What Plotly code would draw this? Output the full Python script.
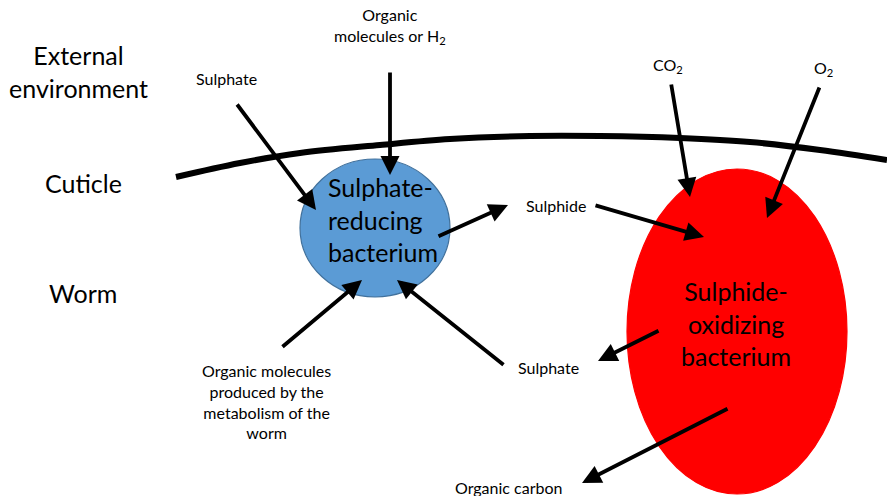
import plotly.graph_objects as go

W, H = 887, 496
FONT = "Lato"

# Region labels (left column)
region_labels = ["External<br>environment", "Cuticle", "Worm"]
region_x = [78, 83, 83]
region_y = [71, 183, 293]

# Cuticle curve points
cuticle_x = [176, 240, 300, 380, 450, 530, 600, 680, 750, 820, 887]
cuticle_y = [177, 163, 153, 145, 139, 136, 136, 138, 142, 150, 160]

# Bacteria (ellipses): x0, y0, x1, y1
bact_names = ["Sulphate-<br>reducing<br>bacterium", "Sulphide-<br>oxidizing<br>bacterium"]
bact_boxes = [(300, 159, 450, 297), (627, 169, 847, 494)]
bact_fill = ["#5B9BD5", "#FF0000"]
bact_line = ["#41719C", "#FF0000"]
bact_text_x = [326, 736]
bact_text_y = [219, 323]
bact_text_align = ["left", "center"]

# Small labels
small_labels = ["Sulphate", "Organic<br>molecules or H<sub>2</sub>", "CO<sub>2</sub>", "O<sub>2</sub>",
                "Sulphide", "Sulphate",
                "Organic molecules<br>produced by the<br>metabolism of the<br>worm", "Organic carbon"]
small_x = [226, 390, 668, 823, 556, 548, 266, 508]
small_y = [78, 26, 65, 68, 205, 367, 401, 487]

# Arrows: tail (x, y) -> head (x, y)
arrow_tail_x = [236, 390, 437, 594, 671, 820, 281, 505, 660, 729]
arrow_tail_y = [103, 71, 237, 205, 83, 86, 348, 366, 330, 408]
arrow_head_x = [316, 390, 508, 704, 690, 767, 362, 397, 598, 582]
arrow_head_y = [210, 175, 205, 237, 197, 218, 280, 280, 361, 483]

fig = go.Figure()

fig.add_trace(go.Scatter(x=cuticle_x, y=cuticle_y, mode="lines",
                         line=dict(color="black", width=6, shape="spline"),
                         hoverinfo="skip", showlegend=False))

shapes = []
for (x0, y0, x1, y1), fc, lc in zip(bact_boxes, bact_fill, bact_line):
    shapes.append(dict(type="circle", xref="x", yref="y", x0=x0, y0=y0, x1=x1, y1=y1,
                       fillcolor=fc, line=dict(color=lc, width=1.2), layer="above"))

annotations = []
for t, x, y in zip(region_labels, region_x, region_y):
    annotations.append(dict(x=x, y=y, xref="x", yref="y", text=t, showarrow=False,
                            font=dict(family=FONT, size=25, color="black"), align="center"))
for t, x, y, al in zip(bact_names, bact_text_x, bact_text_y, bact_text_align):
    annotations.append(dict(x=x, y=y, xref="x", yref="y", text=t, showarrow=False,
                            xanchor="left" if al == "left" else "center",
                            font=dict(family=FONT, size=25, color="black"), align=al))
for t, x, y in zip(small_labels, small_x, small_y):
    annotations.append(dict(x=x, y=y, xref="x", yref="y", text=t, showarrow=False,
                            font=dict(family=FONT, size=16, color="black"), align="center"))
for tx, ty, hx, hy in zip(arrow_tail_x, arrow_tail_y, arrow_head_x, arrow_head_y):
    annotations.append(dict(x=hx, y=hy, ax=tx, ay=ty, xref="x", yref="y", axref="x", ayref="y",
                            text="", showarrow=True, arrowhead=2, arrowsize=1.0,
                            arrowwidth=3.8, arrowcolor="black", standoff=0, startstandoff=0))

fig.update_layout(
    width=W, height=H, margin=dict(l=0, r=0, t=0, b=0),
    paper_bgcolor="white", plot_bgcolor="white",
    xaxis=dict(range=[0, W], visible=False, fixedrange=True),
    yaxis=dict(range=[H, 0], visible=False, fixedrange=True),
    shapes=shapes, annotations=annotations, showlegend=False,
)

fig.write_html("out.html", config={"displayModeBar": False},
               post_script="document.body.style.margin='0';document.body.style.overflow='hidden';")
